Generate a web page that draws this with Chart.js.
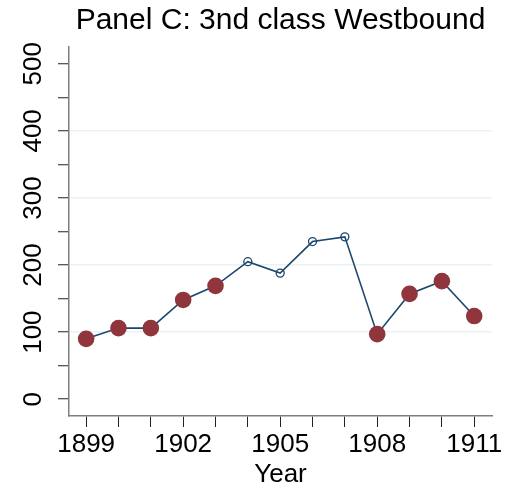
<!DOCTYPE html>
<html><head><meta charset="utf-8">
<script src="https://cdn.jsdelivr.net/npm/chart.js@4"></script>
<style>html,body{margin:0;padding:0;background:#fff}#wrap{width:510px;height:490px}</style>
</head><body><div id="wrap"><canvas id="c" width="510" height="490"></canvas></div>
<script>
const years = [1899,1900,1901,1902,1903,1904,1905,1906,1907,1908,1909,1910,1911];
const values = [90,106,106,148,169,205,188,235,242,97,157,176,124];
const highlightYears = [1899,1900,1901,1902,1903,1908,1909,1910,1911];
const xTickLabels = [1899,1902,1905,1908,1911];
const yTickValues = [0,50,100,150,200,250,300,350,400,450,500];
const yTickLabels = [0,100,200,300,400,500];
const yGridValues = [100,200,300,400];

const FONT = "'Liberation Sans', Arial, Helvetica, sans-serif";
Chart.defaults.font.family = FONT;
Chart.defaults.color = '#000';

const allPoints = years.map((yr, i) => ({x: yr, y: values[i]}));
const highlightPoints = highlightYears.map(yr => ({x: yr, y: values[years.indexOf(yr)]}));

new Chart(document.getElementById('c'), {
  type: 'line',
  data: {
    datasets: [
      {
        label: 'highlight',
        data: highlightPoints,
        showLine: false,
        pointRadius: 8.3,
        pointHoverRadius: 8.3,
        pointBackgroundColor: '#90353b',
        pointBorderColor: '#90353b',
        pointBorderWidth: 0,
        order: 0
      },
      {
        label: 'all',
        data: allPoints,
        borderColor: '#1a476f',
        borderWidth: 1.6,
        tension: 0,
        pointRadius: 4,
        pointHoverRadius: 4,
        pointBorderWidth: 1.3,
        pointBorderColor: '#1a476f',
        pointBackgroundColor: 'rgba(0,0,0,0)',
        order: 1
      }
    ]
  },
  options: {
    responsive: false,
    animation: false,
    devicePixelRatio: 1,
    layout: {padding: {top: 0, left: 0, right: 18, bottom: 0}},
    plugins: {
      legend: {display: false},
      tooltip: {enabled: false},
      title: {
        display: true,
        text: 'Panel C: 3nd class Westbound',
        fullSize: false,
        color: '#000',
        font: {family: FONT, size: 30, weight: 'normal'},
        padding: {top: 3, bottom: 8}
      }
    },
    scales: {
      x: {
        type: 'linear',
        min: 1898.47,
        max: 1911.55,
        afterBuildTicks: s => { s.ticks = years.map(v => ({value: v})); },
        afterFit: s => { s.height = 74; },
        ticks: {
          autoSkip: false,
          maxRotation: 0,
          minRotation: 0,
          padding: 2,
          color: '#000',
          font: {size: 26},
          callback: v => xTickLabels.includes(v) ? String(v) : ''
        },
        grid: {drawOnChartArea: false, tickLength: 11, tickColor: '#222', tickWidth: 1},
        border: {color: '#7f7f7f', width: 1.5},
        title: {display: true, text: 'Year', color: '#000', font: {size: 26}, padding: {top: 0, bottom: 0}}
      },
      y: {
        type: 'linear',
        min: -25,
        max: 525,
        afterBuildTicks: s => { s.ticks = yTickValues.map(v => ({value: v})); },
        afterFit: s => { s.width = 69; },
        ticks: {
          autoSkip: false,
          minRotation: 90,
          maxRotation: 90,
          crossAlign: 'center',
          padding: 2,
          color: '#000',
          font: {size: 26},
          callback: v => yTickLabels.includes(v) ? String(v) : ''
        },
        grid: {
          color: ctx => (ctx.tick && yGridValues.includes(ctx.tick.value)) ? '#eaf2f3' : 'rgba(0,0,0,0)',
          lineWidth: 1.5,
          tickColor: '#222',
          tickWidth: 1,
          tickLength: 11
        },
        border: {color: '#7f7f7f', width: 1.5}
      }
    }
  }
});
</script>
</body></html>
